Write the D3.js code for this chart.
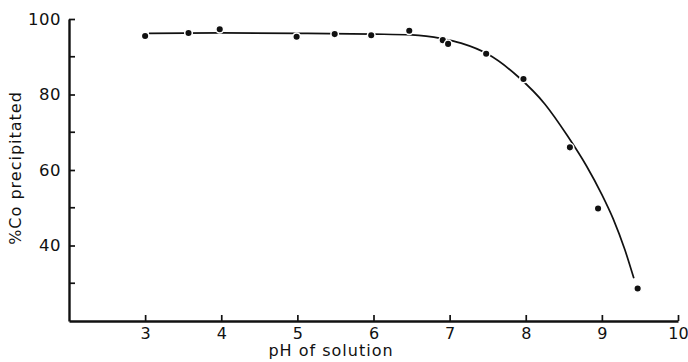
<!DOCTYPE html>
<html>
<head>
<meta charset="utf-8">
<script src="https://cdn.jsdelivr.net/npm/d3@7"></script>
<style>
  body { margin: 0; background: #fff; }
  text { font-family: "DejaVu Sans", sans-serif; fill: #111; }
</style>
</head>
<body>
<div id="chart"></div>
<script>
// measured points (pH, % Co precipitated)
var phValues  = [3.0, 3.57, 3.98, 4.99, 5.49, 5.97, 6.47, 6.91, 6.98, 7.48, 7.97, 8.58, 8.95, 9.47]
var coValues  = [95.5, 96.3, 97.3, 95.3, 96.0, 95.7, 96.9, 94.4, 93.4, 90.8, 84.1, 66.0, 49.8, 28.6]

// hand drawn smooth curve through the points
var curvePh = [3.05, 4.0, 5.0, 6.0, 6.5, 6.9, 7.15, 7.5, 7.9, 8.25, 8.55, 8.8, 9.0, 9.15, 9.3, 9.42]
var curveCo = [96.2, 96.3, 96.2, 96.0, 95.8, 94.8, 93.6, 90.7, 84.7, 77.5, 69.0, 61.0, 53.5, 47.0, 39.0, 31.3]

var xTicks = [3, 4, 5, 6, 7, 8, 9, 10]
var yTicks = [40, 60, 80, 100]
var yMinor = [30, 50, 70, 90]

var width = 688, height = 362

var x = d3.scaleLinear().domain([2, 10]).range([69, 678])
var y = d3.scaleLinear().domain([20, 100]).range([321, 19])

var svg = d3.select("#chart").append("svg")
  .attr("width", width)
  .attr("height", height)

// curve
var line = d3.line()
  .x(function(d) { return x(d[0]) })
  .y(function(d) { return y(d[1]) })
  .curve(d3.curveMonotoneX)

svg.append("path")
  .datum(curvePh.map(function(p, i) { return [p, curveCo[i]] }))
  .attr("d", line)
  .attr("fill", "none")
  .attr("stroke", "#111")
  .attr("stroke-width", 1.7)

// dots, white ring leaves a small gap in the curve like the original
svg.selectAll("circle.pt")
  .data(phValues.map(function(p, i) { return [p, coValues[i]] }))
  .enter().append("circle")
  .attr("class", "pt")
  .attr("cx", function(d) { return x(d[0]) })
  .attr("cy", function(d) { return y(d[1]) })
  .attr("r", 3.8)
  .attr("fill", "#111")
  .attr("stroke", "#fff")
  .attr("stroke-width", 1.5)

// x axis
var xAxis = d3.axisBottom(x)
  .tickValues(xTicks)
  .tickSize(-6)
  .tickPadding(8)
  .tickSizeOuter(0)

var gx = svg.append("g")
  .attr("transform", "translate(0," + y(20) + ")")
  .call(xAxis)
gx.select(".domain").attr("stroke", "#111").attr("stroke-width", 2.4)
gx.selectAll(".tick line").attr("stroke", "#111").attr("stroke-width", 1.7)
gx.selectAll(".tick text").attr("font-size", "16px").attr("dy", "0.6em")

// y axis
var yAxis = d3.axisLeft(y)
  .tickValues(yTicks)
  .tickSize(-6)
  .tickPadding(8)
  .tickSizeOuter(0)

var gy = svg.append("g")
  .attr("transform", "translate(" + x(2) + ",0)")
  .call(yAxis)
gy.select(".domain").attr("stroke", "#111").attr("stroke-width", 2.4)
gy.selectAll(".tick line").attr("stroke", "#111").attr("stroke-width", 1.7)
gy.selectAll(".tick text").attr("font-size", "16.5px").attr("letter-spacing", "0.5px")

gy.selectAll("line.minor")
  .data(yMinor)
  .enter().append("line")
  .attr("class", "minor")
  .attr("x1", 0).attr("x2", 6)
  .attr("y1", function(d) { return y(d) })
  .attr("y2", function(d) { return y(d) })
  .attr("stroke", "#111")
  .attr("stroke-width", 1.7)

// axis titles
svg.append("text")
  .attr("x", 331)
  .attr("y", 356)
  .attr("text-anchor", "middle")
  .attr("font-size", "16px")
  .attr("letter-spacing", "1px")
  .text("pH of solution")

svg.append("text")
  .attr("transform", "translate(21,168) rotate(-90)")
  .attr("text-anchor", "middle")
  .attr("font-size", "16px")
  .attr("letter-spacing", "1px")
  .text("%Co precipitated")
</script>
</body>
</html>
